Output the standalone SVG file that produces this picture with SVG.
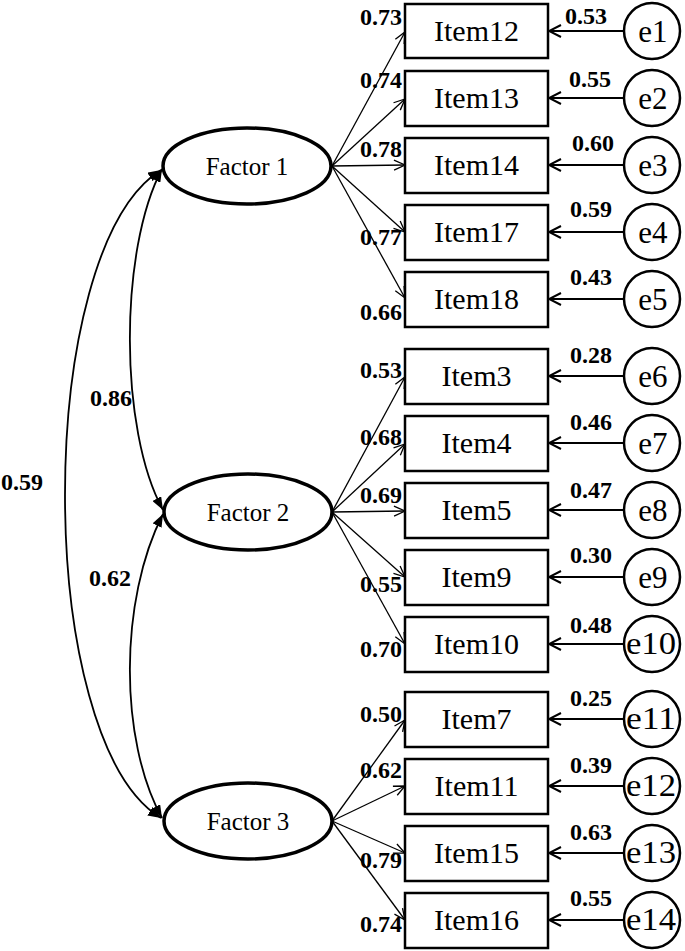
<svg xmlns="http://www.w3.org/2000/svg" width="685" height="951" viewBox="0 0 685 951">
<style>
.bg{fill:#fff}
.fac ellipse{fill:#fff;stroke:#000;stroke-width:3.5}
.fac text{font-family:"Liberation Serif",serif;font-size:25px;text-anchor:middle}
.item rect{fill:#fff;stroke:#000;stroke-width:2.5}
.item text{font-family:"Liberation Serif",serif;font-size:30px;text-anchor:middle}
.err circle{fill:#fff;stroke:#000;stroke-width:2.5}
.err text{font-family:"Liberation Serif",serif;font-size:31px;text-anchor:middle}
.num{font-family:"Liberation Serif",serif;font-size:24px;font-weight:bold}
.ld{stroke:#000;stroke-width:1.3;fill:none;marker-end:url(#openS)}
.ea{stroke:#000;stroke-width:2;fill:none;marker-end:url(#openL)}
.cv{stroke:#000;stroke-width:1.8;fill:none;marker-start:url(#solid);marker-end:url(#solid)}
</style>
<defs>
<marker id="openS" markerUnits="userSpaceOnUse" markerWidth="14" markerHeight="14" refX="12" refY="7" orient="auto"><path d="M1,2 L12,7 L1,12" fill="none" stroke="#000" stroke-width="1.3"/></marker>
<marker id="openL" markerUnits="userSpaceOnUse" markerWidth="16" markerHeight="16" refX="14" refY="8" orient="auto"><path d="M2,2 L14,8 L2,14" fill="none" stroke="#000" stroke-width="2"/></marker>
<marker id="solid" markerUnits="userSpaceOnUse" markerWidth="14" markerHeight="10" refX="13" refY="5" orient="auto-start-reverse"><path d="M0,0 L13,5 L0,10 z" fill="#000"/></marker>
</defs>
<rect class="bg" x="0" y="0" width="685" height="951"/>

<g id="connectors">
<path class="cv" d="M162,169 C119,250 119,430 163,510"/>
<path class="cv" d="M163,514 C119,600 119,740 162,818"/>
<path class="cv" d="M161,170 C33,250 33,740 161,818"/>
<line class="ld" x1="332" y1="166" x2="405" y2="32"/>
<line class="ld" x1="332" y1="166" x2="405" y2="99"/>
<line class="ld" x1="332" y1="166" x2="405" y2="165"/>
<line class="ld" x1="332" y1="166" x2="405" y2="232"/>
<line class="ld" x1="332" y1="166" x2="405" y2="298"/>
<line class="ld" x1="332" y1="512" x2="405" y2="377"/>
<line class="ld" x1="332" y1="512" x2="405" y2="444"/>
<line class="ld" x1="332" y1="512" x2="405" y2="511"/>
<line class="ld" x1="332" y1="512" x2="405" y2="577"/>
<line class="ld" x1="332" y1="512" x2="405" y2="644"/>
<line class="ld" x1="332" y1="821" x2="405" y2="720"/>
<line class="ld" x1="332" y1="821" x2="405" y2="786"/>
<line class="ld" x1="332" y1="821" x2="405" y2="853"/>
<line class="ld" x1="332" y1="821" x2="405" y2="920"/>
<line class="ea" x1="624" y1="31" x2="549" y2="31"/>
<line class="ea" x1="624" y1="98" x2="549" y2="98"/>
<line class="ea" x1="624" y1="165" x2="549" y2="165"/>
<line class="ea" x1="624" y1="232" x2="549" y2="232"/>
<line class="ea" x1="624" y1="299" x2="549" y2="299"/>
<line class="ea" x1="624" y1="376" x2="549" y2="376"/>
<line class="ea" x1="624" y1="443" x2="549" y2="443"/>
<line class="ea" x1="624" y1="510" x2="549" y2="510"/>
<line class="ea" x1="624" y1="577" x2="549" y2="577"/>
<line class="ea" x1="624" y1="644" x2="549" y2="644"/>
<line class="ea" x1="624" y1="719" x2="549" y2="719"/>
<line class="ea" x1="624" y1="786" x2="549" y2="786"/>
<line class="ea" x1="624" y1="853" x2="549" y2="853"/>
<line class="ea" x1="624" y1="920" x2="549" y2="920"/>
</g>

<g id="labels" class="num">
<text x="111" y="406" text-anchor="middle">0.86</text>
<text x="22" y="490" text-anchor="middle">0.59</text>
<text x="110" y="586" text-anchor="middle">0.62</text>
<g text-anchor="end">
<text x="402" y="25">0.73</text>
<text x="402" y="88">0.74</text>
<text x="402" y="157">0.78</text>
<text x="402" y="245">0.77</text>
<text x="402" y="320">0.66</text>
<text x="402" y="378">0.53</text>
<text x="402" y="445">0.68</text>
<text x="402" y="503">0.69</text>
<text x="402" y="592">0.55</text>
<text x="402" y="657">0.70</text>
<text x="402" y="722">0.50</text>
<text x="402" y="778">0.62</text>
<text x="402" y="868">0.79</text>
<text x="402" y="932">0.74</text>
</g>
<g text-anchor="middle">
<text x="586" y="24">0.53</text>
<text x="590" y="87">0.55</text>
<text x="593" y="151">0.60</text>
<text x="591" y="217">0.59</text>
<text x="591" y="285">0.43</text>
<text x="591" y="363">0.28</text>
<text x="591" y="430">0.46</text>
<text x="591" y="498">0.47</text>
<text x="591" y="563">0.30</text>
<text x="591" y="633">0.48</text>
<text x="591" y="706">0.25</text>
<text x="591" y="773">0.39</text>
<text x="591" y="840">0.63</text>
<text x="591" y="906">0.55</text>
</g>
</g>

<g id="factor1" class="fac"><ellipse cx="247" cy="166" rx="84" ry="38"/><text x="247" y="175">Factor 1</text></g>
<g id="factor2" class="fac"><ellipse cx="248" cy="512" rx="84" ry="38"/><text x="248" y="521">Factor 2</text></g>
<g id="factor3" class="fac"><ellipse cx="248" cy="821" rx="84" ry="38"/><text x="248" y="830">Factor 3</text></g>

<g id="item12" class="item"><rect x="405" y="4" width="143" height="54"/><text x="476.5" y="41">Item12</text></g>
<g id="item13" class="item"><rect x="405" y="71" width="143" height="55"/><text x="476.5" y="108">Item13</text></g>
<g id="item14" class="item"><rect x="405" y="138" width="143" height="55"/><text x="476.5" y="175">Item14</text></g>
<g id="item17" class="item"><rect x="405" y="205" width="143" height="55"/><text x="476.5" y="242">Item17</text></g>
<g id="item18" class="item"><rect x="405" y="272" width="143" height="55"/><text x="476.5" y="309">Item18</text></g>
<g id="item3" class="item"><rect x="405" y="349" width="143" height="55"/><text x="476.5" y="386">Item3</text></g>
<g id="item4" class="item"><rect x="405" y="416" width="143" height="55"/><text x="476.5" y="453">Item4</text></g>
<g id="item5" class="item"><rect x="405" y="483" width="143" height="55"/><text x="476.5" y="520">Item5</text></g>
<g id="item9" class="item"><rect x="405" y="550" width="143" height="55"/><text x="476.5" y="587">Item9</text></g>
<g id="item10" class="item"><rect x="405" y="617" width="143" height="55"/><text x="476.5" y="654">Item10</text></g>
<g id="item7" class="item"><rect x="405" y="692" width="143" height="55"/><text x="476.5" y="729">Item7</text></g>
<g id="item11" class="item"><rect x="405" y="759" width="143" height="55"/><text x="476.5" y="796">Item11</text></g>
<g id="item15" class="item"><rect x="405" y="826" width="143" height="55"/><text x="476.5" y="863">Item15</text></g>
<g id="item16" class="item"><rect x="405" y="893" width="143" height="55"/><text x="476.5" y="930">Item16</text></g>

<g id="e1" class="err"><circle cx="652" cy="31" r="28"/><text x="653" y="42">e1</text></g>
<g id="e2" class="err"><circle cx="652" cy="98" r="28"/><text x="653" y="109">e2</text></g>
<g id="e3" class="err"><circle cx="652" cy="165" r="28"/><text x="653" y="176">e3</text></g>
<g id="e4" class="err"><circle cx="652" cy="232" r="28"/><text x="653" y="243">e4</text></g>
<g id="e5" class="err"><circle cx="652" cy="299" r="28"/><text x="653" y="310">e5</text></g>
<g id="e6" class="err"><circle cx="652" cy="376" r="28"/><text x="653" y="387">e6</text></g>
<g id="e7" class="err"><circle cx="652" cy="443" r="28"/><text x="653" y="454">e7</text></g>
<g id="e8" class="err"><circle cx="652" cy="510" r="28"/><text x="653" y="521">e8</text></g>
<g id="e9" class="err"><circle cx="652" cy="577" r="28"/><text x="653" y="588">e9</text></g>
<g id="e10" class="err"><circle cx="652" cy="644" r="28"/><text x="651" y="654" textLength="50" lengthAdjust="spacingAndGlyphs">e10</text></g>
<g id="e11" class="err"><circle cx="652" cy="719" r="28"/><text x="651" y="729" textLength="50" lengthAdjust="spacingAndGlyphs">e11</text></g>
<g id="e12" class="err"><circle cx="652" cy="786" r="28"/><text x="651" y="796" textLength="50" lengthAdjust="spacingAndGlyphs">e12</text></g>
<g id="e13" class="err"><circle cx="652" cy="853" r="28"/><text x="651" y="863" textLength="50" lengthAdjust="spacingAndGlyphs">e13</text></g>
<g id="e14" class="err"><circle cx="652" cy="920" r="28"/><text x="651" y="930" textLength="50" lengthAdjust="spacingAndGlyphs">e14</text></g>
</svg>
